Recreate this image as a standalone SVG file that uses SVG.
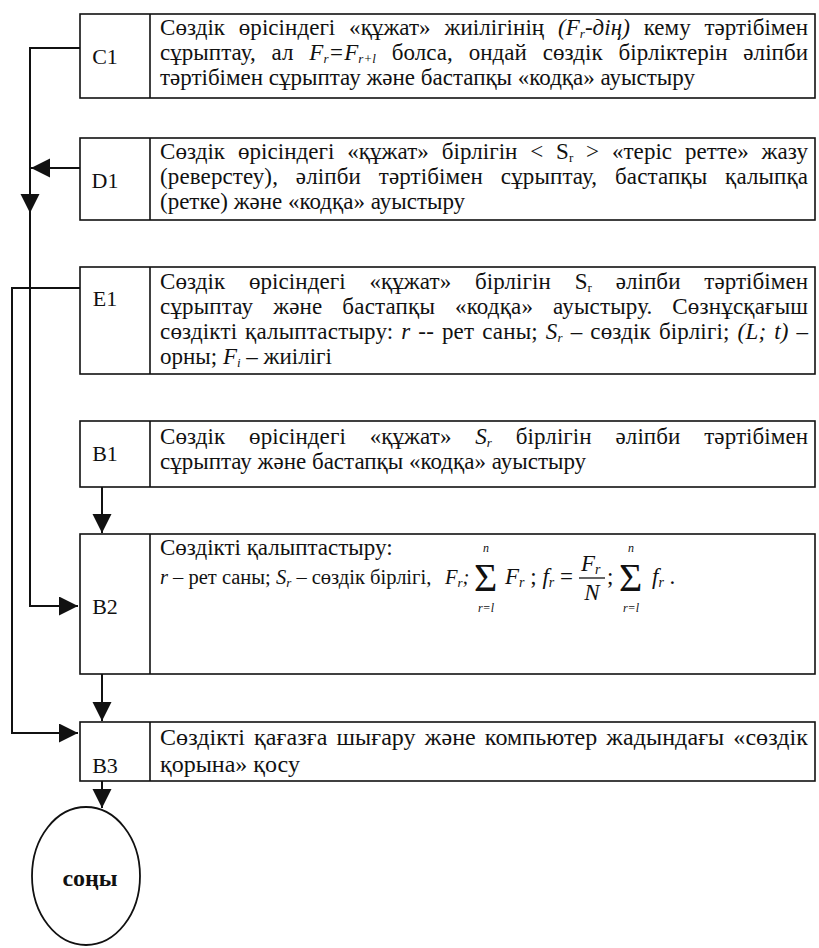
<svg xmlns="http://www.w3.org/2000/svg" width="819" height="948" viewBox="0 0 819 948">
<style>
.box{fill:none;stroke:#111;stroke-width:1.6}
.t{font-family:"Liberation Serif","Times New Roman",serif;font-size:23px;fill:#111}
.t3{font-family:"Liberation Serif","Times New Roman",serif;font-size:24px;fill:#111}
.lab{font-family:"Liberation Serif","Times New Roman",serif;font-size:22px;fill:#111;text-anchor:middle}
.i{font-style:italic}
.sub{font-size:13px}
.conn{fill:none;stroke:#111;stroke-width:2}
.m{font-family:"Liberation Serif","Times New Roman",serif;fill:#111}
</style>
<defs>
<marker id="ah" markerUnits="userSpaceOnUse" markerWidth="20" markerHeight="20" refX="19" refY="9.5" orient="auto">
<path d="M0,0 L19,9.5 L0,19 Z" fill="#111"/>
</marker>
</defs>
<rect width="819" height="948" fill="#fff"/>
<g id="connectors">
<path class="conn" d="M80,48 H30 V213" marker-end="url(#ah)"/>
<path class="conn" d="M30,205 V606 H78" marker-end="url(#ah)"/>
<path class="conn" d="M80,168 H31" marker-end="url(#ah)"/>
<path class="conn" d="M80,288 H12 V733 H78" marker-end="url(#ah)"/>
<path class="conn" d="M102,487 V533" marker-end="url(#ah)"/>
<path class="conn" d="M102,674 V721" marker-end="url(#ah)"/>
<path class="conn" d="M102,781 V808" marker-end="url(#ah)"/>
</g>
<g id="C1">
<rect class="box" x="80" y="14" width="735" height="84"/>
<line class="box" x1="150" y1="14" x2="150" y2="98"/>
<text class="lab" x="105" y="64">C1</text>
<text class="t" x="160" y="35" textLength="648" lengthAdjust="spacing" word-spacing="8">Сөздік өрісіндегі «құжат» жиілігінің <tspan class="i">(F</tspan><tspan class="i sub" dy="3">r</tspan><tspan class="i" dy="-3">-дің)</tspan> кему тәртібімен</text>
<text class="t" x="160" y="60" textLength="648" lengthAdjust="spacing" word-spacing="10">сұрыптау, ал <tspan class="i">F</tspan><tspan class="i sub" dy="3">r</tspan><tspan class="i" dy="-3">=F</tspan><tspan class="i sub" dy="3">r+l</tspan><tspan dy="-3"> болса, ондай сөздік бірліктерін әліпби</tspan></text>
<text class="t" x="160" y="85">тәртібімен сұрыптау және бастапқы «кодқа» ауыстыру</text>
</g>
<g id="D1">
<rect class="box" x="80" y="138" width="735" height="82"/>
<line class="box" x1="150" y1="138" x2="150" y2="220"/>
<text class="lab" x="105" y="188">D1</text>
<text class="t" x="160" y="159" textLength="648" lengthAdjust="spacing" word-spacing="7">Сөздік өрісіндегі «құжат» бірлігін &lt; S<tspan class="sub" dy="3">r</tspan><tspan dy="-3"> &gt; «теріс ретте» жазу</tspan></text>
<text class="t" x="160" y="184" textLength="648" lengthAdjust="spacing" word-spacing="12">(реверстеу), әліпби тәртібімен сұрыптау, бастапқы қалыпқа</text>
<text class="t" x="160" y="209">(ретке) және «кодқа» ауыстыру</text>
</g>
<g id="E1">
<rect class="box" x="80" y="267" width="735" height="107"/>
<line class="box" x1="150" y1="267" x2="150" y2="374"/>
<text class="lab" x="105" y="306">E1</text>
<text class="t" x="160" y="289" textLength="648" lengthAdjust="spacing" word-spacing="18">Сөздік өрісіндегі «құжат» бірлігін S<tspan class="sub" dy="3">r</tspan><tspan dy="-3"> әліпби тәртібімен</tspan></text>
<text class="t" x="160" y="314" textLength="648" lengthAdjust="spacing" word-spacing="14">сұрыптау және бастапқы «кодқа» ауыстыру. Сөзнұсқағыш</text>
<text class="t" x="160" y="339" textLength="648" lengthAdjust="spacing" word-spacing="2">сөздікті қалыптастыру: <tspan class="i">r</tspan> -- рет саны; <tspan class="i">S</tspan><tspan class="i sub" dy="3">r</tspan><tspan dy="-3"> – сөздік бірлігі; </tspan><tspan class="i">(L; t)</tspan> –</text>
<text class="t" x="160" y="364">орны; <tspan class="i">F</tspan><tspan class="i sub" dy="3">i</tspan><tspan dy="-3"> – жиілігі</tspan></text>
</g>
<g id="B1">
<rect class="box" x="80" y="421" width="735" height="66"/>
<line class="box" x1="150" y1="421" x2="150" y2="487"/>
<text class="lab" x="105" y="461">B1</text>
<text class="t" x="160" y="444" textLength="648" lengthAdjust="spacing" word-spacing="18">Сөздік өрісіндегі «құжат» <tspan class="i">S</tspan><tspan class="i sub" dy="3">r</tspan><tspan dy="-3"> бірлігін әліпби тәртібімен</tspan></text>
<text class="t" x="160" y="469">сұрыптау және бастапқы «кодқа» ауыстыру</text>
</g>
<g id="B2">
<rect class="box" x="80" y="534" width="735" height="140"/>
<line class="box" x1="150" y1="534" x2="150" y2="674"/>
<text class="lab" x="105" y="614">B2</text>
<text class="t" x="160" y="555">Сөздікті қалыптастыру:</text>
<text class="m" x="160" y="584" font-size="20.5"><tspan class="i">r</tspan> – рет саны; <tspan class="i">S</tspan><tspan class="i" font-size="13" dy="3">r</tspan><tspan dy="-3"> – сөздік бірлігі,</tspan><tspan class="i" x="445">F</tspan><tspan class="i" font-size="13" dy="3">r</tspan><tspan class="i" dy="-3">;</tspan></text>
<text class="m" x="474" y="591" font-size="40">Σ</text>
<text class="m i" x="486" y="552" font-size="12" text-anchor="middle">n</text>
<text class="m i" x="486" y="612" font-size="12" text-anchor="middle">r=l</text>
<text class="m" x="505" y="584" font-size="23"><tspan class="i">F</tspan><tspan class="i" font-size="14" dy="3">r</tspan><tspan dy="-3"> ; </tspan><tspan class="i">f</tspan><tspan class="i" font-size="14" dy="3">r</tspan><tspan dy="-3"> =</tspan></text>
<text class="m" x="581" y="571" font-size="23"><tspan class="i">F</tspan><tspan class="i" font-size="14" dy="3">r</tspan></text>
<line x1="579" y1="578" x2="605" y2="578" stroke="#111" stroke-width="1.3"/>
<text class="m i" x="592" y="600" font-size="23" text-anchor="middle">N</text>
<text class="m" x="607" y="584" font-size="23">;</text>
<text class="m" x="619" y="591" font-size="40">Σ</text>
<text class="m i" x="631" y="552" font-size="12" text-anchor="middle">n</text>
<text class="m i" x="631" y="612" font-size="12" text-anchor="middle">r=l</text>
<text class="m" x="652" y="584" font-size="23"><tspan class="i">f</tspan><tspan class="i" font-size="14" dy="3">r</tspan><tspan dy="-3"> .</tspan></text>
</g>
<g id="B3">
<rect class="box" x="80" y="722" width="735" height="59"/>
<line class="box" x1="150" y1="722" x2="150" y2="781"/>
<text class="lab" x="105" y="773">B3</text>
<text class="t3" x="160" y="745" textLength="648" lengthAdjust="spacing" word-spacing="3">Сөздікті қағазға шығару және компьютер жадындағы «сөздік</text>
<text class="t3" x="160" y="772">қорына» қосу</text>
</g>
<g id="end">
<ellipse cx="86" cy="876" rx="54" ry="69" fill="none" stroke="#111" stroke-width="1.8"/>
<text x="90" y="886" font-family="'Liberation Serif','Times New Roman',serif" font-size="24" font-weight="bold" text-anchor="middle" fill="#111">соңы</text>
</g>
</svg>
